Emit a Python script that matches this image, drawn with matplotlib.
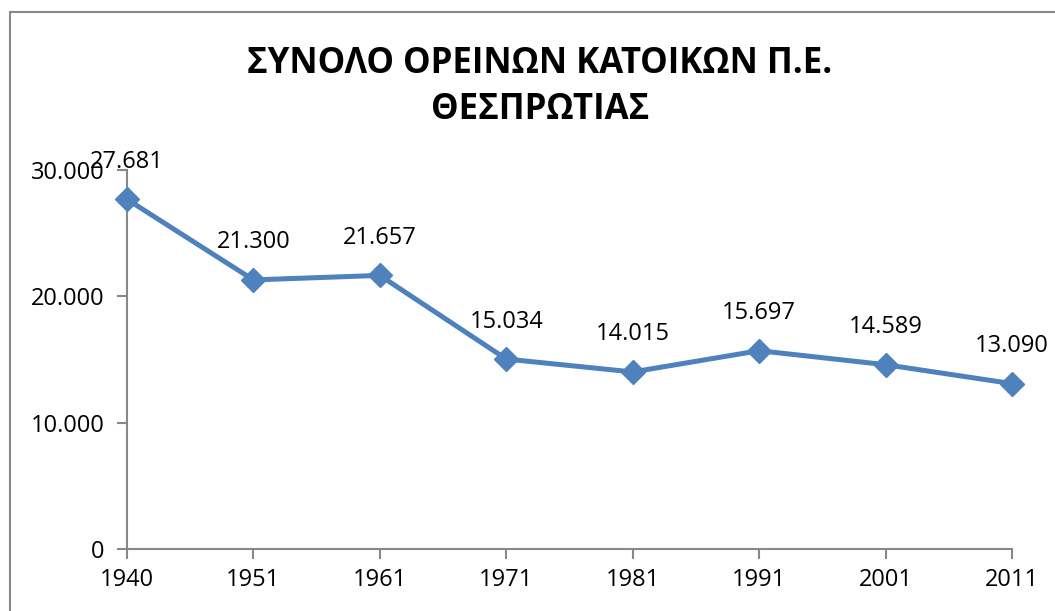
import matplotlib.pyplot as plt
from matplotlib.patches import Rectangle

plt.rcParams['font.family'] = ['Open Sans', 'DejaVu Sans']

years = ['1940', '1951', '1961', '1971', '1981', '1991', '2001', '2011']
residents = [27681, 21300, 21657, 15034, 14015, 15697, 14589, 13090]
labels = ['27.681', '21.300', '21.657', '15.034', '14.015', '15.697', '14.589', '13.090']
yticks = [0, 10000, 20000, 30000]
ytick_labels = ['0', '10.000', '20.000', '30.000']

fig = plt.figure(figsize=(10.55, 6.11), dpi=100)
ax = fig.add_axes([127 / 1055, 1 - 549 / 611, (1012 - 127) / 1055, (549 - 170) / 611])

x = list(range(len(years)))
ax.plot(x, residents, color='#4F81BD', lw=3.6, marker='D', ms=12,
        mec='#4F81BD', mfc='#4F81BD', clip_on=False, zorder=3)

# value labels above each point
for xi, yi, lab in zip(x, residents, labels):
    ax.annotate(lab, (xi, yi), xytext=(0, 27), textcoords='offset points',
                ha='center', va='center', fontsize=17)

ax.set_xlim(0, len(years) - 1)
ax.set_ylim(0, 30000)
ax.set_xticks(x)
ax.set_xticklabels(years, fontsize=17)
ax.set_yticks(yticks)
ax.set_yticklabels(ytick_labels, fontsize=17)

for s in ['top', 'right']:
    ax.spines[s].set_visible(False)
for s in ['left', 'bottom']:
    ax.spines[s].set_color('#888888')
    ax.spines[s].set_linewidth(1.5)
ax.tick_params(axis='both', color='#888888', width=1.5, length=7, pad=7)
ax.tick_params(axis='y', pad=9)

fig.text(540 / 1055, 1 - 87 / 611, 'ΣΥΝΟΛΟ ΟΡΕΙΝΩΝ ΚΑΤΟΙΚΩΝ Π.Ε.\nΘΕΣΠΡΩΤΙΑΣ',
         ha='center', va='center', fontsize=25, fontweight='bold', linespacing=1.35)

fig.patches.append(Rectangle((10 / 1055, -0.1), 1.2, 1 - 12 / 611 + 0.1,
                             transform=fig.transFigure, fill=False,
                             edgecolor='#888888', lw=1.5))

fig.savefig('out.png', dpi=100)
